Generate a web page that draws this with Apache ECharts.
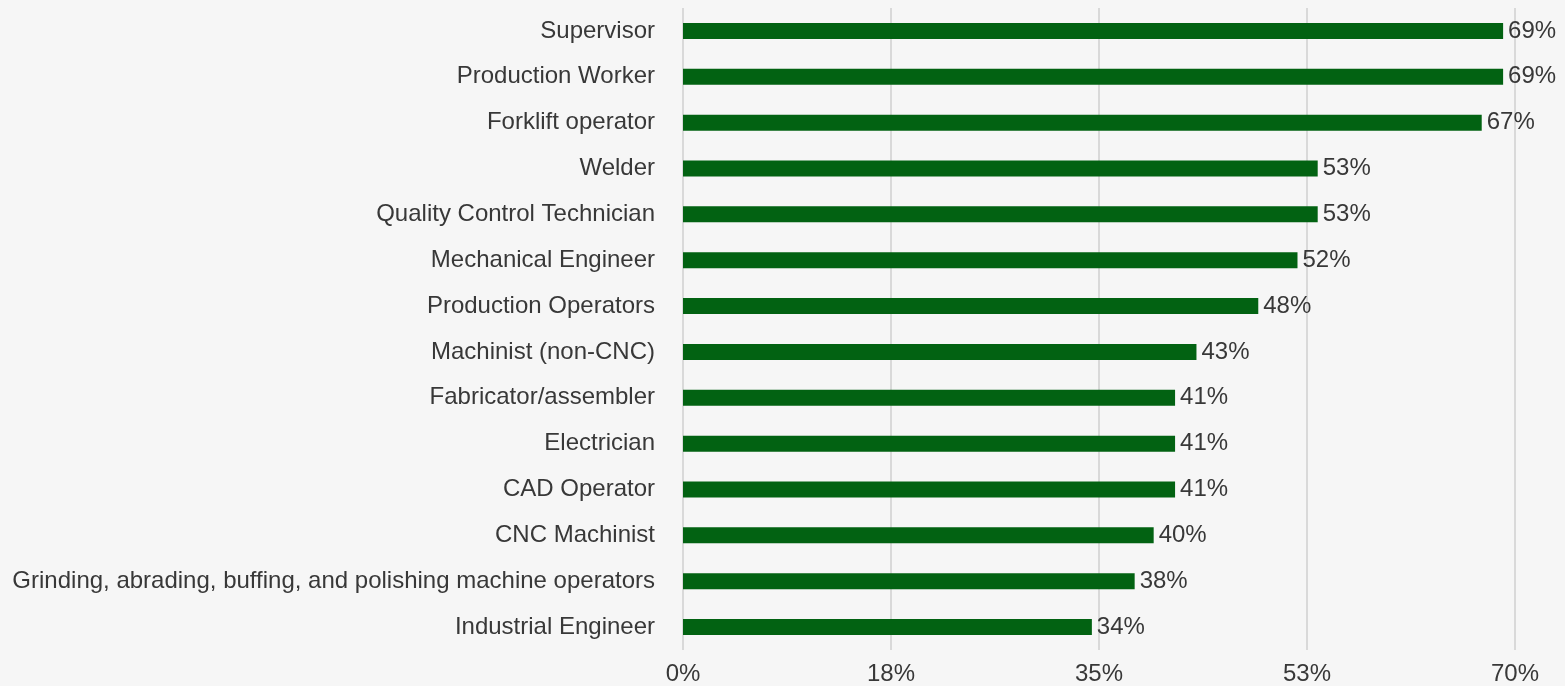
<!DOCTYPE html>
<html>
<head>
<meta charset="utf-8">
<script src="https://cdn.jsdelivr.net/npm/echarts@6/dist/echarts.min.js"></script>
<style>
  html, body { margin: 0; padding: 0; background: #f6f6f6; }
  #chart { width: 1565px; height: 686px; }
</style>
</head>
<body>
<div id="chart"></div>
<script>
// Occupations, listed top to bottom
const categories = [
  'Supervisor',
  'Production Worker',
  'Forklift operator',
  'Welder',
  'Quality Control Technician',
  'Mechanical Engineer',
  'Production Operators',
  'Machinist (non-CNC)',
  'Fabricator/assembler',
  'Electrician',
  'CAD Operator',
  'CNC Machinist',
  'Grinding, abrading, buffing, and polishing machine operators',
  'Industrial Engineer'
];

// Share of respondents, percent (same order as categories)
const shares = [69.0, 69.0, 67.2, 53.4, 53.4, 51.7, 48.4, 43.2, 41.4, 41.4, 41.4, 39.6, 38.0, 34.4];

// Value axis range and step
const axisMax = 70;
const axisStep = 17.5;

const chart = echarts.init(document.getElementById('chart'), null, { renderer: 'canvas' });

const font = '"Liberation Sans", Arial, Helvetica, sans-serif';
const textColor = '#383838';

chart.setOption({
  backgroundColor: '#f6f6f6',
  animation: false,
  grid: { left: 683, right: 50, top: 8, bottom: 35, containLabel: false },
  xAxis: {
    type: 'value',
    min: 0,
    max: axisMax,
    interval: axisStep,
    axisLine: { show: false },
    axisTick: { show: false },
    splitLine: { show: true, lineStyle: { color: '#d9d9d9', width: 2 } },
    axisLabel: {
      color: textColor,
      fontFamily: font,
      fontSize: 24,
      margin: 12,
      formatter: v => Math.round(v) + '%'
    }
  },
  yAxis: {
    type: 'category',
    data: categories,
    inverse: true,
    axisLine: { show: false },
    axisTick: { show: false },
    splitLine: { show: false },
    axisLabel: {
      color: textColor,
      fontFamily: font,
      fontSize: 24,
      margin: 28,
      padding: [0, 0, 1, 0]
    }
  },
  series: [{
    type: 'bar',
    data: shares,
    barWidth: 16,
    itemStyle: { color: '#026212' },
    label: {
      show: true,
      position: 'right',
      distance: 5,
      padding: [5, 0, 0, 0],
      color: textColor,
      fontFamily: font,
      fontSize: 24,
      formatter: p => Math.round(p.value) + '%'
    }
  }]
});
</script>
</body>
</html>
